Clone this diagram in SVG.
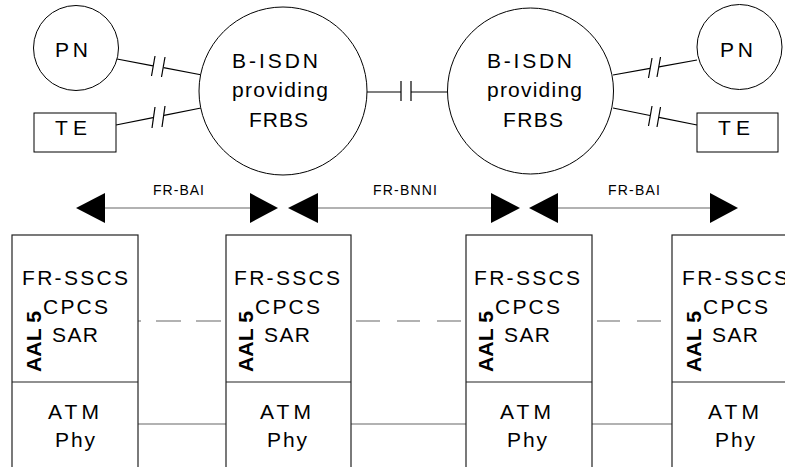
<svg xmlns="http://www.w3.org/2000/svg" width="785" height="467" viewBox="0 0 785 467">
<defs>
<style>
text{font-family:"Liberation Sans",Arial,sans-serif;fill:#000}
.n{fill:#fff;stroke:#000;stroke-width:1}
.big{font-size:21px}
.lbl{font-size:14px}
.box{fill:#fff;stroke:#222;stroke-width:1.2}
.div{stroke:#222;stroke-width:1.2}
.ln{stroke:#000;stroke-width:1.2;fill:none}
.gl{stroke:#666;stroke-width:1.2;fill:none}
.aal{font-size:21px;font-weight:bold}
.ah{fill:#000}
</style>
<g id="stack">
<text class="big" x="22" y="285" textLength="106" lengthAdjust="spacing">FR-SSCS</text>
<text class="big" x="43" y="314" textLength="65" lengthAdjust="spacing">CPCS</text>
<text class="big" x="52" y="342" textLength="46" lengthAdjust="spacing">SAR</text>
<text class="aal" transform="translate(40.5,372) rotate(-90)" x="0" y="0" textLength="61" lengthAdjust="spacingAndGlyphs">AAL 5</text>
<text class="big" x="48" y="419" textLength="51" lengthAdjust="spacing">ATM</text>
<text class="big" x="55" y="447" textLength="40" lengthAdjust="spacing">Phy</text>
</g>
</defs>

<g id="connectors">
<!-- left PN to B-ISDN -->
<line class="ln" x1="117" y1="59" x2="153" y2="65.8"/>
<line class="ln" x1="151.5" y1="76" x2="155" y2="56"/>
<line class="ln" x1="161.5" y1="77" x2="165" y2="57"/>
<line class="ln" x1="163.5" y1="67.7" x2="202" y2="75"/>
<!-- left TE to B-ISDN -->
<line class="ln" x1="116" y1="125" x2="153" y2="117.6"/>
<line class="ln" x1="152" y1="128" x2="155" y2="107"/>
<line class="ln" x1="162" y1="127" x2="165" y2="106"/>
<line class="ln" x1="164" y1="115.4" x2="201" y2="108"/>
<!-- middle -->
<line class="ln" x1="367" y1="92" x2="401" y2="92"/>
<line class="ln" x1="401" y1="81" x2="401" y2="101"/>
<line class="ln" x1="411" y1="81" x2="411" y2="101"/>
<line class="ln" x1="411" y1="92" x2="448" y2="92"/>
<!-- right B-ISDN to PN -->
<line class="ln" x1="613" y1="75" x2="650" y2="68.4"/>
<line class="ln" x1="648.5" y1="78" x2="652" y2="58"/>
<line class="ln" x1="657" y1="77" x2="660.5" y2="57"/>
<line class="ln" x1="659" y1="66.8" x2="697" y2="60"/>
<!-- right B-ISDN to TE -->
<line class="ln" x1="613" y1="108" x2="650" y2="115.5"/>
<line class="ln" x1="648.5" y1="126" x2="652" y2="106"/>
<line class="ln" x1="657" y1="127" x2="660.5" y2="107"/>
<line class="ln" x1="659" y1="117.3" x2="697" y2="125"/>

<!-- interface arrows -->
<line class="gl" x1="105" y1="208" x2="250" y2="208"/>
<polygon class="ah" points="76,208 105,193 105,223"/>
<polygon class="ah" points="278,208 250,193 250,223"/>
<line class="gl" x1="318" y1="208" x2="491" y2="208"/>
<polygon class="ah" points="288,208 318,193 318,223"/>
<polygon class="ah" points="520,208 491,193 491,223"/>
<line class="gl" x1="558" y1="208" x2="710" y2="208"/>
<polygon class="ah" points="529,208 558,193 558,223"/>
<polygon class="ah" points="738,208 710,193 710,223"/>

<!-- peer dashed lines -->
<path class="gl" d="M138,321H141M156,321H181M196,321H221"/>
<path class="gl" d="M356,321H380M397,321H420M437,321H461"/>
<path class="gl" d="M597,321H620M637,321H661"/>
<!-- physical links -->
<line class="gl" x1="138" y1="424" x2="226" y2="424"/>
<line class="gl" x1="351" y1="424" x2="466" y2="424"/>
<line class="gl" x1="592" y1="424" x2="672" y2="424"/>
</g>

<g id="labels">
<text class="lbl" x="153" y="195" textLength="51" lengthAdjust="spacing">FR-BAI</text>
<text class="lbl" x="373" y="195" textLength="64" lengthAdjust="spacing">FR-BNNI</text>
<text class="lbl" x="608" y="195" textLength="52" lengthAdjust="spacing">FR-BAI</text>
</g>

<g id="pn-left">
<circle class="n" cx="76" cy="48" r="42.5"/>
<text class="big" x="55" y="57" textLength="33" lengthAdjust="spacing">PN</text>
</g>
<g id="te-left">
<rect class="n" x="34" y="113" width="82" height="39"/>
<text class="big" x="55" y="135" textLength="32" lengthAdjust="spacing">TE</text>
</g>
<g id="bisdn-left">
<circle class="n" cx="283" cy="91" r="84"/>
<text class="big" x="232" y="68" textLength="86" lengthAdjust="spacing">B-ISDN</text>
<text class="big" x="232" y="97" textLength="96" lengthAdjust="spacing">providing</text>
<text class="big" x="249" y="127" textLength="59" lengthAdjust="spacing">FRBS</text>
</g>
<g id="bisdn-right">
<circle class="n" cx="530.5" cy="91" r="83"/>
<text class="big" x="487" y="68" textLength="85" lengthAdjust="spacing">B-ISDN</text>
<text class="big" x="487" y="97" textLength="95" lengthAdjust="spacing">providing</text>
<text class="big" x="503" y="127" textLength="60" lengthAdjust="spacing">FRBS</text>
</g>
<g id="pn-right">
<circle class="n" cx="739.5" cy="47" r="42.5"/>
<text class="big" x="720" y="57" textLength="33" lengthAdjust="spacing">PN</text>
</g>
<g id="te-right">
<rect class="n" x="697" y="113" width="81" height="39"/>
<text class="big" x="718" y="135" textLength="32" lengthAdjust="spacing">TE</text>
</g>

<g id="stack-1">
<rect class="box" x="12" y="235" width="126" height="250"/>
<line class="div" x1="12" y1="382" x2="138" y2="382"/>
<use href="#stack"/>
</g>
<g id="stack-2">
<rect class="box" x="226" y="235" width="125" height="250"/>
<line class="div" x1="226" y1="382" x2="351" y2="382"/>
<use href="#stack" transform="translate(212,0)"/>
</g>
<g id="stack-3">
<rect class="box" x="466" y="235" width="126" height="250"/>
<line class="div" x1="466" y1="382" x2="592" y2="382"/>
<use href="#stack" transform="translate(452,0)"/>
</g>
<g id="stack-4">
<rect class="box" x="672" y="235" width="126" height="250"/>
<line class="div" x1="672" y1="382" x2="798" y2="382"/>
<use href="#stack" transform="translate(660,0)"/>
</g>
</svg>
